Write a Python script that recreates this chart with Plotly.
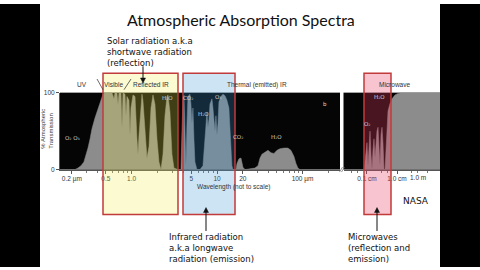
import plotly.graph_objects as go

# ---------------- data ----------------
# Main panel: wavelength in micrometres vs % atmospheric transmission
wl_um = [0.146, 0.218, 0.236, 0.256, 0.277, 0.293, 0.309, 0.327, 0.344, 0.373,
         0.405, 0.439, 0.463, 0.489, 0.590, 0.623, 0.640, 0.675, 0.694, 0.713,
         0.752, 0.773, 0.794, 0.838, 0.861, 0.884, 0.933, 0.959, 0.984, 1.039,
         1.097, 1.157, 1.189, 1.222, 1.289, 1.324, 1.359, 1.435, 1.514, 1.599,
         1.687, 1.780, 1.879, 1.983, 2.093, 2.208, 2.330, 2.459, 2.595, 2.666,
         2.813, 2.969, 3.133, 3.489, 3.784, 3.886, 3.994, 4.101, 4.213, 4.327,
         4.446, 4.567, 4.819, 4.952, 5.086, 5.225, 5.367, 5.514, 5.818, 6.308,
         6.839, 7.219, 7.413, 7.617, 7.823, 8.037, 8.256, 8.712, 8.951, 9.194,
         9.456, 9.703, 9.977, 10.24, 10.52, 11.10, 11.72, 12.38, 13.05, 13.77,
         14.14, 14.54, 14.92, 15.35, 16.62, 17.10, 18.03, 19.05, 19.53, 20.09,
         21.23, 27.7, 30.1, 31.8, 33.5, 36.3, 39.4, 42.7, 46.3, 50.2,
         54.3, 60.7, 67.5, 73.1, 79.4, 83.8, 88.3, 93.3, 274.0]
trans_main = [0, 0, 2, 5, 10, 18, 28, 40, 53, 67,
              80, 92, 98, 100, 100, 92, 100, 100, 85, 100,
              100, 55, 100, 98, 70, 95, 90, 45, 80, 97,
              95, 40, 20, 45, 85, 98, 90, 55, 15, 30,
              80, 97, 85, 40, 10, 0, 20, 70, 95, 97,
              75, 20, 2, 0, 0, 50, 92, 97, 60, 5,
              60, 95, 98, 85, 60, 80, 40, 10, 0, 0,
              5, 40, 70, 75, 55, 65, 85, 92, 80, 60,
              50, 70, 45, 60, 88, 95, 98, 96, 90, 80,
              60, 30, 5, 0, 0, 8, 14, 15, 10, 3,
              0, 2, 5, 15, 20, 23, 25, 22, 21, 25,
              27, 28, 28, 25, 17, 8, 2, 0, 0]

# Microwave panel: wavelength in centimetres vs % atmospheric transmission
wl_cm = [0.0165, 0.0794, 0.0858, 0.0927, 0.100, 0.108, 0.117, 0.126, 0.136, 0.147,
         0.158, 0.171, 0.185, 0.200, 0.215, 0.233, 0.251, 0.271, 0.293, 0.316,
         0.341, 0.369, 0.398, 0.430, 0.464, 0.501, 0.585, 0.681, 0.858, 1.08,
         1.47, 27.1]
trans_mw = [0, 0, 10, 25, 35, 5, 30, 50, 20, 0,
            25, 40, 15, 35, 50, 55, 25, 5, 45, 55,
            35, 0, 0, 30, 68, 76, 86, 92, 97, 99,
            100, 100]

main_tickvals = [0.2, 0.5, 1, 5, 10, 20, 100]
main_ticktext = ["0.2 \u00b5m", "0.5", "1.0", "5", "10", "20", "100 \u00b5m"]
main_minor = [0.3, 0.4, 0.6, 0.7, 0.8, 0.9, 2, 3, 4, 6, 7, 8, 9,
              30, 40, 50, 60, 70, 80, 90, 200]
mw_tickvals = [0.1, 1]
mw_ticktext = ["0.1 cm", "1.0 cm"]
mw_minor = [0.03, 0.05, 0.3, 0.5, 3, 5, 10]

# ---------------- helpers for layout placement ----------------
W, H = 480, 270


def px(x):
    return x / W


def py(y):
    return 1 - y / H


GRAY = "#8c8c8c"
TICKFONT = dict(family="Liberation Sans", size=6.5, color="#333")

fig = go.Figure()
fig.add_trace(go.Scatter(x=wl_um, y=trans_main, xaxis="x", yaxis="y",
                         mode="lines", line=dict(color=GRAY, width=0.5),
                         fill="tozeroy", fillcolor=GRAY, hoverinfo="skip",
                         showlegend=False))
fig.add_trace(go.Scatter(x=wl_cm, y=trans_mw, xaxis="x2", yaxis="y",
                         mode="lines", line=dict(color=GRAY, width=0.5),
                         fill="tozeroy", fillcolor=GRAY, hoverinfo="skip",
                         showlegend=False))

axis_common = dict(showgrid=False, zeroline=False, showline=True,
                   linecolor="#555", linewidth=1, ticks="outside",
                   ticklen=3, tickcolor="#555", tickfont=TICKFONT)

fig.update_layout(
    width=W, height=H,
    margin=dict(l=0, r=0, t=0, b=0, pad=0),
    paper_bgcolor="white", plot_bgcolor="#050505",
    showlegend=False,
    xaxis=dict(type="log", domain=[px(60), px(340)], range=[-0.837, 2.438],
               anchor="y", tickvals=main_tickvals, ticktext=main_ticktext,
               minor=dict(tickvals=main_minor, ticks="outside", ticklen=2,
                          tickcolor="#777"),
               **axis_common),
    xaxis2=dict(type="log", domain=[px(343.5), px(440)], range=[-1.783, 1.433],
                anchor="y", tickvals=mw_tickvals, ticktext=mw_ticktext,
                minor=dict(tickvals=mw_minor, ticks="outside", ticklen=2,
                           tickcolor="#777"),
                **axis_common),
    yaxis=dict(domain=[py(170), py(91)], range=[0, 100], anchor="x",
               tickvals=[0, 100], **axis_common),
)

RED = "#c23b3b"
shapes = [
    # highlighted bands
    dict(type="rect", xref="paper", yref="paper", x0=px(103), x1=px(178),
         y0=py(216), y1=py(71), fillcolor="rgba(240,236,70,0.25)",
         line=dict(color=RED, width=1.5), layer="above"),
    dict(type="rect", xref="paper", yref="paper", x0=px(183), x1=px(235),
         y0=py(216), y1=py(71), fillcolor="rgba(60,150,215,0.26)",
         line=dict(color=RED, width=1.5), layer="above"),
    dict(type="rect", xref="paper", yref="paper", x0=px(364), x1=px(391),
         y0=py(216), y1=py(71), fillcolor="rgba(230,60,95,0.30)",
         line=dict(color=RED, width=1.5), layer="above"),
    # band separators above the panel
    dict(type="line", xref="paper", yref="paper", x0=px(97), x1=px(103),
         y0=py(77), y1=py(88), line=dict(color="#444", width=0.8)),
    dict(type="line", xref="paper", yref="paper", x0=px(124), x1=px(131),
         y0=py(88), y1=py(77), line=dict(color="#444", width=0.8)),
    # axis break marks between the two panels
    dict(type="line", xref="paper", yref="paper", x0=px(339.5), x1=px(342.5),
         y0=py(172.5), y1=py(167.5), line=dict(color="#666", width=0.7)),
    dict(type="line", xref="paper", yref="paper", x0=px(341.5), x1=px(344.5),
         y0=py(172.5), y1=py(167.5), line=dict(color="#666", width=0.7)),
]


def arrow(x, y_tail, y_head):
    d = 1 if y_head > y_tail else -1
    shapes.append(dict(type="line", xref="paper", yref="paper",
                       x0=px(x), x1=px(x), y0=py(y_tail), y1=py(y_head - d * 4),
                       line=dict(color="#111", width=1), layer="above"))
    path = "M {:.5f},{:.5f} L {:.5f},{:.5f} L {:.5f},{:.5f} Z".format(
        px(x - 2.5), py(y_head - d * 5), px(x + 2.5), py(y_head - d * 5),
        px(x), py(y_head))
    shapes.append(dict(type="path", xref="paper", yref="paper", path=path,
                       fillcolor="#111", line=dict(color="#111", width=0.5),
                       layer="above"))


arrow(143, 64, 81)
arrow(206, 233, 209)
arrow(377, 233, 209)

# letterbox
shapes += [
    dict(type="rect", xref="paper", yref="paper", x0=0, x1=px(40), y0=0, y1=1,
         fillcolor="black", line=dict(width=0), layer="above"),
    dict(type="rect", xref="paper", yref="paper", x0=px(440), x1=1, y0=0, y1=1,
         fillcolor="black", line=dict(width=0), layer="above"),
]
fig.update_layout(shapes=shapes)

BODY = dict(family="DejaVu Sans", size=8.5, color="#111")
ann = []


def text(x, y, s, font, xanchor="center", yanchor="middle", **kw):
    ann.append(dict(xref="paper", yref="paper", x=px(x), y=py(y), text=s,
                    showarrow=False, xanchor=xanchor, yanchor=yanchor,
                    font=font, align="left", **kw))


text(241, 16, "Atmospheric Absorption Spectra",
     dict(family="Lato", size=16, color="#111"))
text(105, 49, "Solar radiation a.k.a<br>shortwave radiation<br>(reflection)", BODY,
     xanchor="left")
text(167, 251, "Infrared radiation<br>a.k.a longwave<br>radiation (emission)", BODY,
     xanchor="left")
text(346, 251, "Microwaves<br>(reflection and<br>emission)", BODY, xanchor="left")
text(416, 202, "NASA", dict(family="DejaVu Sans", size=9, color="#111"))

SMALL = dict(family="Liberation Sans", size=6.5, color="#333")
text(82, 83, "UV", SMALL)
text(113, 83, "Visible", SMALL)
text(151, 83, "Reflected IR", SMALL)
text(257, 83, "Thermal (emitted) IR", SMALL)
text(394, 83, "Microwave", SMALL)
text(233, 188, "Wavelength (not to scale)", SMALL)
text(418, 178.5, "1.0 m", SMALL)  # original axis is compressed ("not to scale") beyond 1 cm
text(47, 128, "% Atmospheric<br>Transmission",
     dict(family="Liberation Sans", size=6, color="#333"), textangle=-90)

GAS = dict(family="DejaVu Sans", size=5.5, color="#d8d8d8")
text(72, 138, "O\u2082 O\u2083", GAS)
text(167, 97, "H\u2082O", GAS)
text(188, 97, "CO\u2082", GAS)
text(203, 113, "H\u2082O", GAS)
text(218, 95, "O\u2083", GAS)
text(238, 137, "CO\u2082", GAS)
text(276, 137, "H\u2082O", GAS)
text(325, 103, "b", GAS)
text(379, 95, "H\u2082O", GAS)
text(367, 123, "O\u2082", GAS)

fig.update_layout(annotations=ann)
fig.write_html("out.html")
